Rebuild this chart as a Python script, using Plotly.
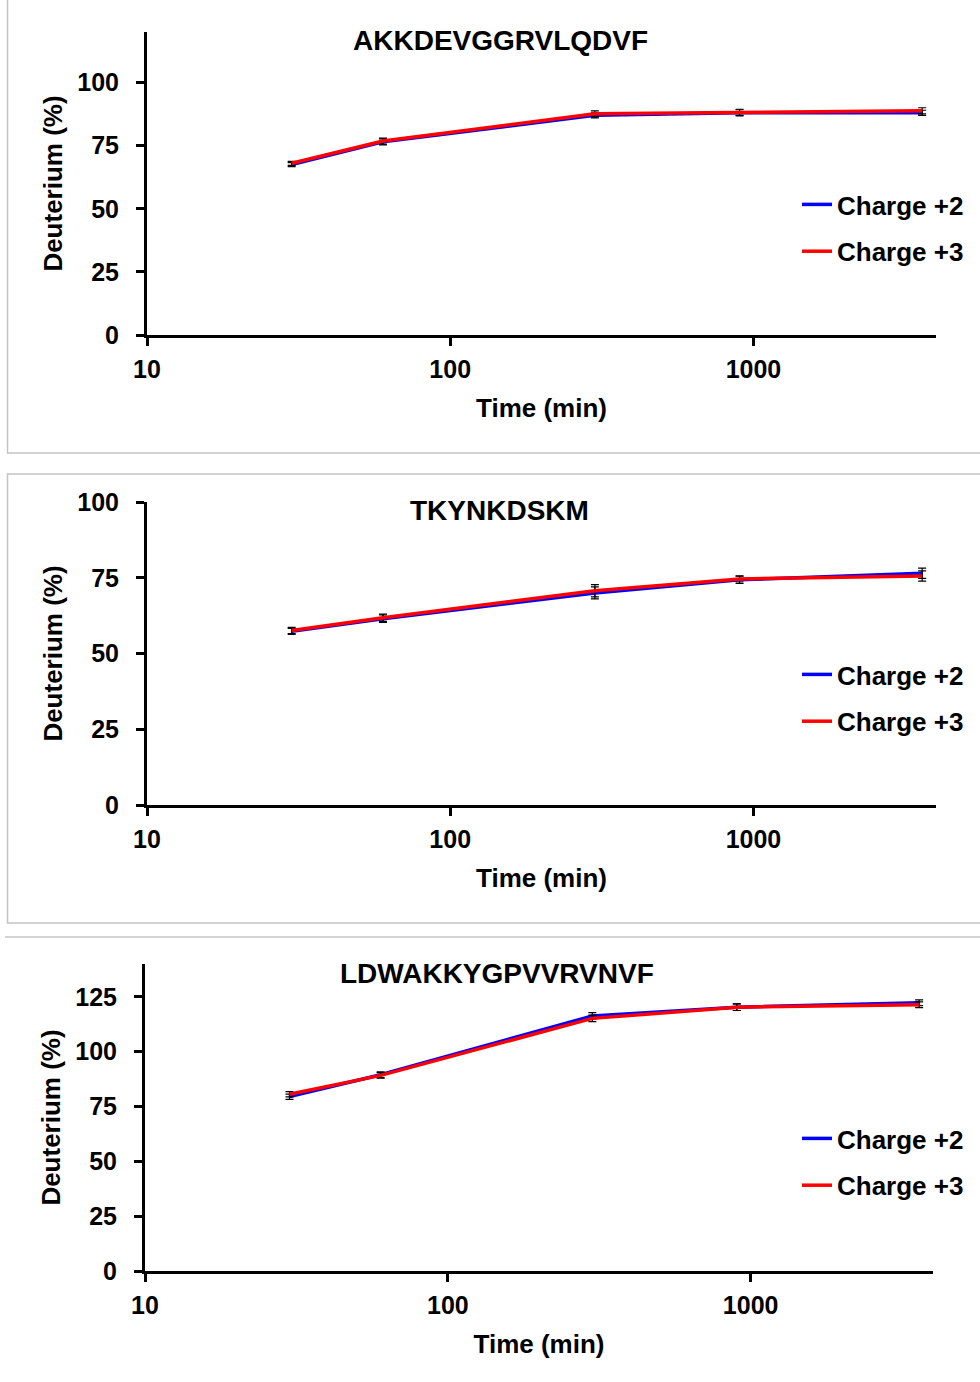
import plotly.graph_objects as go

# Exchange time points (min)
time_min = [30, 60, 300, 900, 3600]

# Peptide names
peptides = ["AKKDEVGGRVLQDVF", "TKYNKDSKM", "LDWAKKYGPVVRVNVF"]

# Deuterium uptake (%) per peptide, charge +2 and +3
p1_charge2 = [67.5, 76.5, 87.0, 88.0, 88.0]
p1_charge3 = [68.0, 76.8, 87.6, 88.2, 88.8]
p1_err2 = [0.8, 1.2, 1.0, 1.2, 1.0]
p1_err3 = [0.8, 1.2, 1.2, 1.2, 1.2]

p2_charge2 = [57.3, 61.5, 70.0, 74.3, 76.5]
p2_charge3 = [57.6, 61.8, 70.7, 74.6, 75.6]
p2_err2 = [1.0, 1.2, 2.0, 1.2, 1.7]
p2_err3 = [1.0, 1.2, 2.0, 1.0, 1.7]

p3_charge2 = [79.5, 89.5, 116.3, 120.3, 122.3]
p3_charge3 = [80.6, 89.2, 115.2, 120.3, 121.4]
p3_err2 = [1.2, 1.3, 1.5, 1.5, 1.3]
p3_err3 = [1.2, 1.3, 1.5, 1.5, 1.3]

# Axis settings per panel
y_max = [120, 100, 140]
y_ticks = [[0, 25, 50, 75, 100], [0, 25, 50, 75, 100], [0, 25, 50, 75, 100, 125]]
x_ticks = [10, 100, 1000]
x_ticktext = ["10", "100", "1000"]
series_names = ["Charge +2", "Charge +3"]
series_colors = ["#0000FF", "#FF0000"]

W, H = 980, 1382
FONT = "Arial, Liberation Sans, sans-serif"

# Pixel layout of each panel: (left, right, top, bottom)
panels_px = [(147, 936, 32, 335), (147, 936, 502, 805), (145, 933, 964, 1271)]


def px_x(v):
    return v / W


def px_y(v):
    return 1 - v / H


data = [
    (p1_charge2, p1_charge3, p1_err2, p1_err3),
    (p2_charge2, p2_charge3, p2_err2, p2_err3),
    (p3_charge2, p3_charge3, p3_err2, p3_err3),
]

fig = go.Figure()
layout = dict(
    width=W, height=H, margin=dict(l=0, r=0, t=0, b=0),
    paper_bgcolor="white", plot_bgcolor="white",
    font=dict(family=FONT, color="black", size=24, weight="bold"),
    shapes=[], annotations=[],
)

for i, (c2, c3, e2, e3) in enumerate(data):
    n = "" if i == 0 else str(i + 1)
    xa, ya = "x" + n, "y" + n
    leg = "legend" + n
    for vals, errs, name, color in ((c2, e2, series_names[0], series_colors[0]),
                                    (c3, e3, series_names[1], series_colors[1])):
        fig.add_trace(go.Scatter(
            x=time_min, y=vals, name=name, mode="lines",
            line=dict(color=color, width=3.5),
            error_y=dict(type="data", array=errs, visible=True,
                         color="black", thickness=1.2, width=4),
            xaxis=xa, yaxis=ya, legend=leg,
            legendgroup=name + n, showlegend=True,
        ))
    l, r, t, b = panels_px[i]
    layout["xaxis" + n] = dict(
        domain=[px_x(l), px_x(r)], anchor=ya, type="log", automargin=False,
        range=[1, 3.60206], tickvals=x_ticks, ticktext=x_ticktext,
        showline=True, linecolor="black", linewidth=3,
        ticks="outside", ticklen=8, tickwidth=3, tickcolor="black",
        showgrid=False, zeroline=False,
        tickfont=dict(size=25), ticklabelstandoff=2,
        title=dict(text="Time (min)", font=dict(size=26), standoff=17),
    )
    layout["yaxis" + n] = dict(
        domain=[px_y(b), px_y(t)], anchor=xa, automargin=False,
        range=[0, y_max[i]], tickvals=y_ticks[i],
        showline=True, linecolor="black", linewidth=3,
        ticks="outside", ticklen=8, tickwidth=3, tickcolor="black",
        showgrid=False, zeroline=False,
        tickfont=dict(size=25), ticklabelstandoff=12,
        title=dict(text="Deuterium (%)", font=dict(size=26), standoff=8),
    )
    legend_top = [181, 651, 1115][i]
    layout[leg] = dict(
        x=px_x(797), y=px_y(legend_top), xanchor="left", yanchor="top",
        bgcolor="rgba(0,0,0,0)", borderwidth=0,
        font=dict(size=26), traceorder="grouped", tracegroupgap=10,
        itemclick=False, itemdoubleclick=False,
    )
    title_xy = [(500, 40), (499, 510), (497, 974)][i]
    layout["annotations"].append(dict(
        text=peptides[i], xref="paper", yref="paper",
        x=px_x(title_xy[0]), y=px_y(title_xy[1]),
        xanchor="center", yanchor="middle", showarrow=False,
        font=dict(size=28),
    ))

# Light frames around the panels
frame = dict(color="#c4c4c4", width=1.5)
layout["shapes"] += [
    dict(type="rect", xref="paper", yref="paper", x0=px_x(7.5), x1=1.01,
         y0=px_y(453), y1=1.01, line=frame),
    dict(type="rect", xref="paper", yref="paper", x0=px_x(7.5), x1=1.01,
         y0=px_y(923), y1=px_y(474), line=frame),
    dict(type="line", xref="paper", yref="paper", x0=px_x(5), x1=1.0,
         y0=px_y(937), y1=px_y(937), line=frame),
]

fig.update_layout(**layout)
fig.write_html("out.html")
